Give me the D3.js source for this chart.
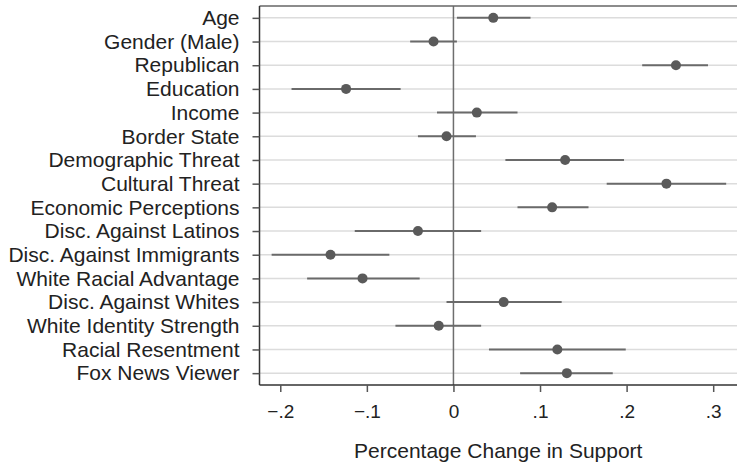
<!DOCTYPE html>
<html><head><meta charset="utf-8">
<script src="https://cdnjs.cloudflare.com/ajax/libs/d3/7.8.5/d3.min.js"></script>
<style>body{margin:0;background:#fff;}svg{display:block;font-family:"Liberation Sans",Arial,sans-serif;}</style>
</head><body><svg id="chart" width="737" height="465"></svg>
<script>
const categories = ["Age","Gender (Male)","Republican","Education","Income","Border State","Demographic Threat","Cultural Threat","Economic Perceptions","Disc. Against Latinos","Disc. Against Immigrants","White Racial Advantage","Disc. Against Whites","White Identity Strength","Racial Resentment","Fox News Viewer"];
const estimates = [0.046,-0.023,0.257,-0.124,0.027,-0.008,0.129,0.246,0.114,-0.041,-0.142,-0.105,0.058,-0.017,0.120,0.131];
const lower = [0.004,-0.050,0.218,-0.187,-0.019,-0.041,0.060,0.177,0.074,-0.114,-0.210,-0.169,-0.008,-0.067,0.041,0.077];
const upper = [0.089,0.004,0.294,-0.061,0.074,0.026,0.197,0.315,0.156,0.032,-0.074,-0.039,0.125,0.032,0.199,0.184];
const xTicks = [-0.2,-0.1,0,0.1,0.2,0.3];
const xTickLabels = ["\u2212.2","\u2212.1","0",".1",".2",".3"];
const xTitle = "Percentage Change in Support";

const svg = d3.select("#chart");
const L = 259.5, R = 737, T = 6, B = 385;
const x = d3.scaleLinear().domain([-0.224, 0.3275]).range([L, R]);
const y = d3.scaleLinear().domain([0.5, 16.5]).range([T, B]);
const rows = categories.map((c,i)=>({c, i:i+1, e:estimates[i], lo:lower[i], hi:upper[i]}));
const FONT = "Liberation Sans, Arial, sans-serif";

// gridlines
svg.append("g").selectAll("line").data(rows).join("line")
  .attr("x1", L).attr("x2", R).attr("y1", d=>y(d.i)).attr("y2", d=>y(d.i))
  .attr("stroke", "#dcdcdc").attr("stroke-width", 1.5);

// zero line
svg.append("line").attr("x1", x(0)).attr("x2", x(0)).attr("y1", T).attr("y2", B)
  .attr("stroke", "#6e6e6e").attr("stroke-width", 1.5);

// top border
svg.append("line").attr("x1", L).attr("x2", R).attr("y1", T).attr("y2", T)
  .attr("stroke", "#666").attr("stroke-width", 1.5);

// CIs
svg.append("g").selectAll("line").data(rows).join("line")
  .attr("x1", d=>x(d.lo)).attr("x2", d=>x(d.hi)).attr("y1", d=>y(d.i)).attr("y2", d=>y(d.i))
  .attr("stroke", "#6a6a6a").attr("stroke-width", 2);

// points
svg.append("g").selectAll("circle").data(rows).join("circle")
  .attr("cx", d=>x(d.e)).attr("cy", d=>y(d.i)).attr("r", 5)
  .attr("fill", "#5a5a5a");

// x axis
const xAxis = d3.axisBottom(x).tickValues(xTicks).tickFormat((d,i)=>xTickLabels[i]).tickSize(7).tickPadding(13).tickSizeOuter(0);
const gx = svg.append("g").attr("transform", `translate(0,${B})`).call(xAxis);
gx.select(".domain").attr("stroke", "#333").attr("stroke-width", 1.5).attr("d", `M${L},0H${R}`);
gx.selectAll(".tick line").attr("stroke", "#555").attr("stroke-width", 1.5);
gx.selectAll(".tick text").attr("font-size", 19).attr("fill", "#222").attr("font-family", FONT);

// y axis
const yAxis = d3.axisLeft(y).tickValues(rows.map(d=>d.i)).tickFormat((d)=>categories[d-1]).tickSize(7).tickPadding(13).tickSizeOuter(0);
const gy = svg.append("g").attr("transform", `translate(${L},0)`).call(yAxis);
gy.select(".domain").attr("stroke", "#333").attr("stroke-width", 1.5).attr("d", `M0,${T}V${B}`);
gy.selectAll(".tick line").attr("stroke", "#555").attr("stroke-width", 1.5);
gy.selectAll(".tick text").attr("font-size", 21).attr("fill", "#222").attr("font-family", FONT);

// x title
svg.append("text").attr("x", (L+R)/2).attr("y", 458).attr("text-anchor", "middle")
  .attr("font-size", 21).attr("fill", "#222").attr("font-family", FONT).text(xTitle);
</script></body></html>
